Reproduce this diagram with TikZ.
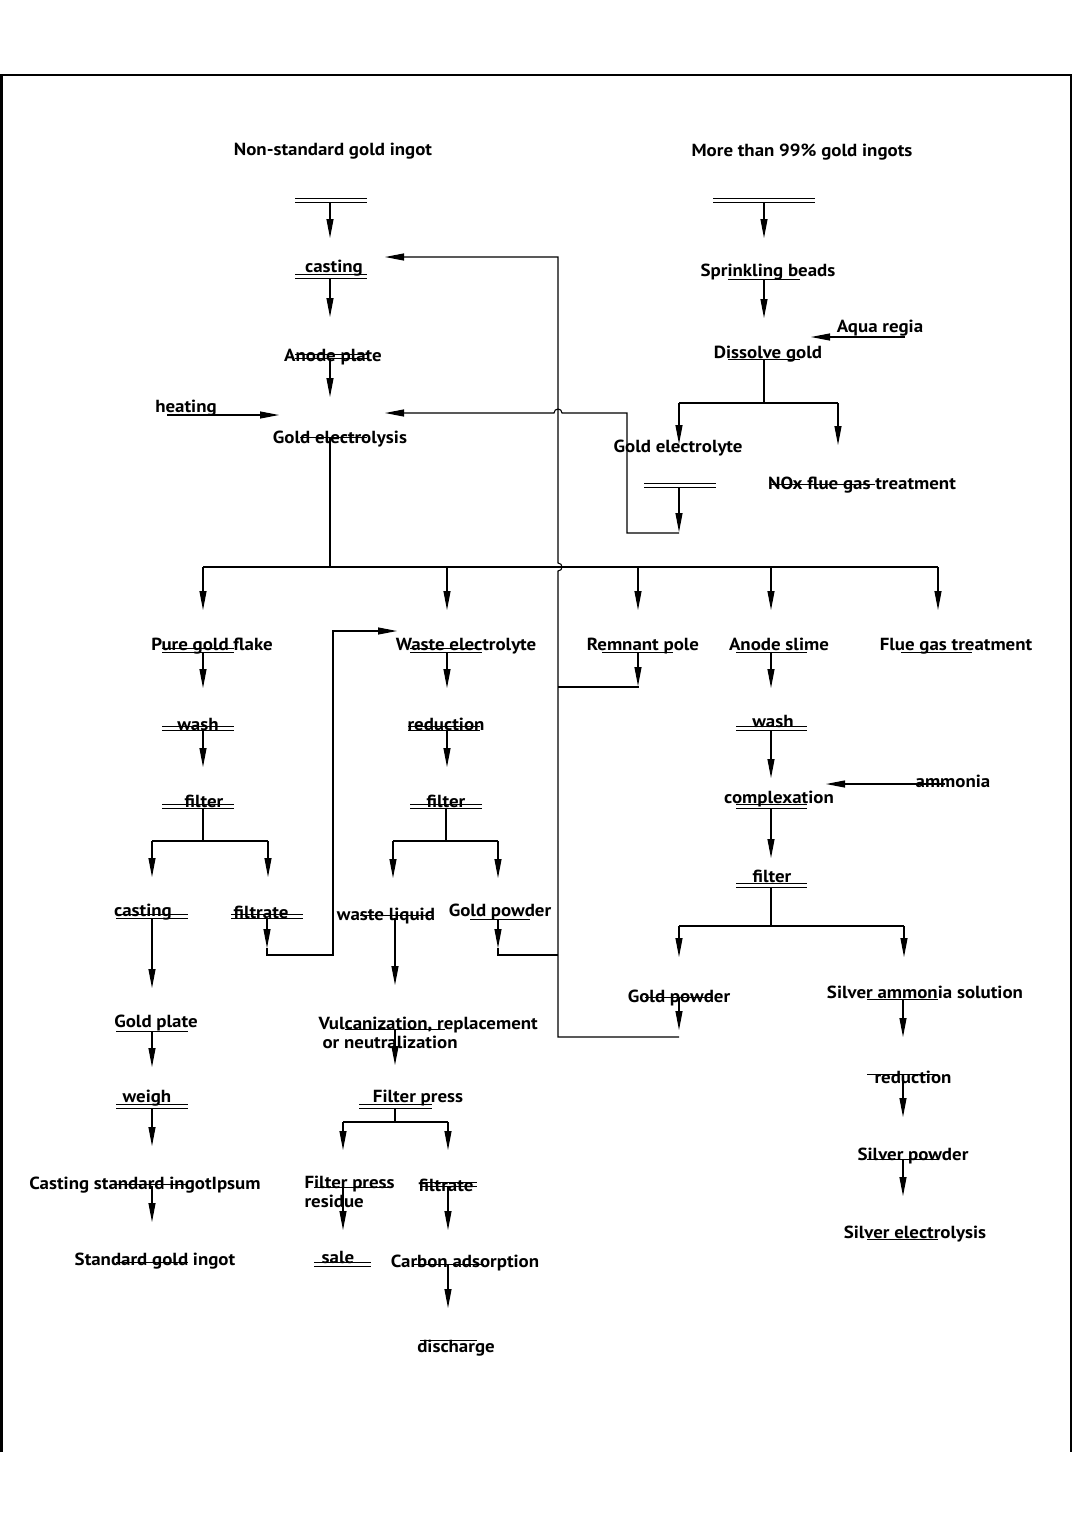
\documentclass[tikz,border=0pt]{standalone}
\usepackage{fontspec}
\setmainfont{PT Sans}[FakeStretch=1.08]
\usetikzlibrary{arrows.meta}
\newcommand\dbl[3]{\draw[uline] (#1,#3) -- (#2,#3) (#1,#3+4.5) -- (#2,#3+4.5);}
\newcommand\sgl[3]{\draw[uline] (#1,#3) -- (#2,#3);}
\begin{document}
\begin{tikzpicture}[x=1pt,y=-1pt,line width=1.1pt,
  lbl/.style={font=\fontsize{17.5}{20}\selectfont\bfseries,inner sep=0pt,anchor=base},
  lblw/.style={lbl,anchor=base west},
  uline/.style={line width=0.9pt},
  arr/.style={-{Triangle[length=19pt,width=7pt]}}]
\useasboundingbox (0,0) rectangle (1080,1527);
% frame
\draw[line width=2.4pt] (1.5,1452) -- (1.5,75) -- (1071,75) -- (1071,1452);

% ---- texts
\node[lbl] (ngi) at (333,155) {Non-standard gold ingot};
\node[lbl] (mgi) at (802,156) {More than 99\% gold ingots};
\node[lbl] (cast1) at (334,272) {casting};
\node[lbl] (anode) at (333,361) {Anode plate};
\node[lbl] (heat) at (186,412) {heating};
\node[lbl] (gel) at (340,443) {Gold electrolysis};
\node[lbl] (spr) at (768,276) {Sprinkling beads};
\node[lbl] (aqua) at (880,332) {Aqua regia};
\node[lbl] (diss) at (768,358) {Dissolve gold};
\node[lbl] (gelyte) at (678,452) {Gold electrolyte};
\node[lbl] (nox) at (862,489) {NOx flue gas treatment};
\node[lbl] (pgf) at (212,650) {Pure gold flake};
\node[lbl] (wel) at (466,650) {Waste electrolyte};
\node[lbl] (rem) at (643,650) {Remnant pole};
\node[lbl] (asl) at (779,650) {Anode slime};
\node[lbl] (flue) at (956,650) {Flue gas treatment};
\node[lbl] (wash1) at (198,730) {wash};
\node[lbl] (red1) at (446,730) {reduction};
\node[lbl] (wash2) at (773,727) {wash};
\node[lbl] (fil1) at (204,807) {filter};
\node[lbl] (fil2) at (446,807) {filter};
\node[lbl] (amm) at (953,787) {ammonia};
\node[lbl] (cplx) at (779,803) {complexation};
\node[lbl] (fil3) at (772,882) {filter};
\node[lbl] (cast2) at (143,916) {casting};
\node[lbl] (ftr1) at (261,918) {filtrate};
\node[lbl] (wliq) at (386,920) {waste liquid};
\node[lbl] (gpw1) at (500,916) {Gold powder};
\node[lbl] (gpw2) at (679,1002) {Gold powder};
\node[lbl] (sas) at (925,998) {Silver ammonia solution};
\node[lbl] (gpl) at (156,1027) {Gold plate};
\node[lblw] (vul) at (318,1029) {Vulcanization, replacement};
\node[lblw] (vul2) at (322,1048) {or neutralization};
\node[lbl] (weigh) at (147,1102) {weigh};
\node[lbl] (fpr) at (418,1102) {Filter press};
\node[lbl] (csi) at (145,1189) {Casting standard ingotIpsum};
\node[lblw] (fprr) at (304,1188) {Filter press};
\node[lblw] (fprr2) at (304,1207) {residue};
\node[lbl] (ftr2) at (446,1191) {filtrate};
\node[lbl] (sgi) at (155,1265) {Standard gold ingot};
\node[lbl] (sale) at (338,1263) {sale};
\node[lbl] (cads) at (465,1267) {Carbon adsorption};
\node[lbl] (disc) at (456,1352) {discharge};
\node[lbl] (red2) at (913,1083) {reduction};
\node[lbl] (spw) at (913,1160) {Silver powder};
\node[lbl] (sel) at (915,1238) {Silver electrolysis};

% ---- double / single rule marks
\dbl{295}{367}{198}
\dbl{713}{815}{198}
\dbl{295}{367}{274}
\dbl{295}{367}{354}
\sgl{300}{367}{437}
\sgl{728}{800}{279}
\sgl{728}{800}{359}
\dbl{644}{716}{483}
\sgl{770}{875}{484}
\dbl{162}{234}{648}
\dbl{410}{482}{648}
\sgl{602}{673}{652}
\sgl{736}{807}{652}
\sgl{901}{972}{652}
\dbl{162}{234}{726}
\dbl{408}{480}{726}
\dbl{736}{807}{726}
\dbl{162}{234}{804}
\dbl{410}{482}{804}
\dbl{736}{807}{804}
\dbl{736}{807}{883}
\dbl{116}{188}{914}
\dbl{231}{303}{914}
\sgl{360}{432}{915}
\sgl{470}{530}{919}
\sgl{645}{713}{997}
\sgl{867}{938}{999}
\sgl{867}{938}{1074}
\sgl{867}{938}{1159}
\sgl{867}{938}{1239}
\sgl{116}{188}{1031}
\dbl{116}{188}{1104}
\sgl{116}{188}{1184}
\sgl{116}{188}{1262}
\sgl{345}{445}{1029}
\dbl{359}{432}{1104}
\sgl{314}{389}{1187}
\dbl{420}{477}{1182}
\dbl{314}{371}{1262}
\sgl{412}{484}{1264}
\sgl{420}{477}{1340}

% ---- connectors
\draw[arr] (330,203) -- (330,238);
\draw[arr] (764,203) -- (764,238);
\draw[arr] (330,279) -- (330,317);
\draw[arr] (330,359) -- (330,397);
\draw[arr] (167,415) -- (279,415);
\draw[arr] (764,279) -- (764,318);
\draw[arr] (905,337) -- (811,337);
\draw (764,359) -- (764,403) (679,403) -- (838,403);
\draw[arr] (679,403) -- (679,444);
\draw[arr] (838,403) -- (838,445);
\draw[arr] (679,488) -- (679,532);
\draw[arr] (679,533) -- (627,533) -- (627,413) -- (562,413)
   .. controls (562,407.7) and (554,407.7) .. (554,413) -- (385,413);
% recycle line
\draw[arr] (679,1037) -- (558,1037) -- (558,571)
   .. controls (563.3,571) and (563.3,563) .. (558,563) -- (558,257) -- (385,257);
% trunk
\draw (330,437) -- (330,567) (203,567) -- (938,567);
\foreach \x in {203,447,638,771,938} \draw[arr] (\x,567) -- (\x,610);
% left column
\draw[arr] (203,653) -- (203,688);
\draw[arr] (203,730) -- (203,767);
\draw (203,808) -- (203,841) (152,841) -- (268,841);
\draw[arr] (152,841) -- (152,877);
\draw[arr] (268,841) -- (268,877);
\draw[arr] (152,918) -- (152,988);
\draw[arr] (267,918) -- (267,948);
\draw[arr] (267,948) -- (267,955) -- (333,955) -- (333,631) -- (397,631);
\draw[arr] (152,1031) -- (152,1067);
\draw[arr] (152,1109) -- (152,1146);
\draw[arr] (152,1186) -- (152,1222);
% middle column
\draw[arr] (447,653) -- (447,688);
\draw[arr] (447,730) -- (447,767);
\draw (446,808) -- (446,841) (393,841) -- (498,841);
\draw[arr] (393,841) -- (393,878);
\draw[arr] (498,841) -- (498,878);
\draw[arr] (395,918) -- (395,985);
\draw[arr] (498,919) -- (498,948);
\draw (498,948) -- (498,955) -- (558,955);
\draw[arr] (395,1029) -- (395,1065);
\draw (395,1109) -- (395,1122) (343,1122) -- (448,1122);
\draw[arr] (343,1122) -- (343,1150);
\draw[arr] (448,1122) -- (448,1150);
\draw[arr] (343,1188) -- (343,1230);
\draw[arr] (448,1187) -- (448,1230);
\draw[arr] (448,1264) -- (448,1308);
% right columns
\draw[arr] (638,652) -- (638,686);
\draw (638,686) -- (638,687) -- (558,687);
\draw[arr] (771,652) -- (771,688);
\draw[arr] (771,730) -- (771,778);
\draw[arr] (945,784) -- (826,784);
\draw[arr] (771,808) -- (771,858);
\draw (771,887) -- (771,926) (679,926) -- (904,926);
\draw[arr] (679,926) -- (679,957);
\draw[arr] (904,926) -- (904,957);
\draw[arr] (679,997) -- (679,1030);
\draw[arr] (903,999) -- (903,1037);
\draw[arr] (903,1077) -- (903,1117);
\draw[arr] (903,1159) -- (903,1196);
\end{tikzpicture}
\end{document}
